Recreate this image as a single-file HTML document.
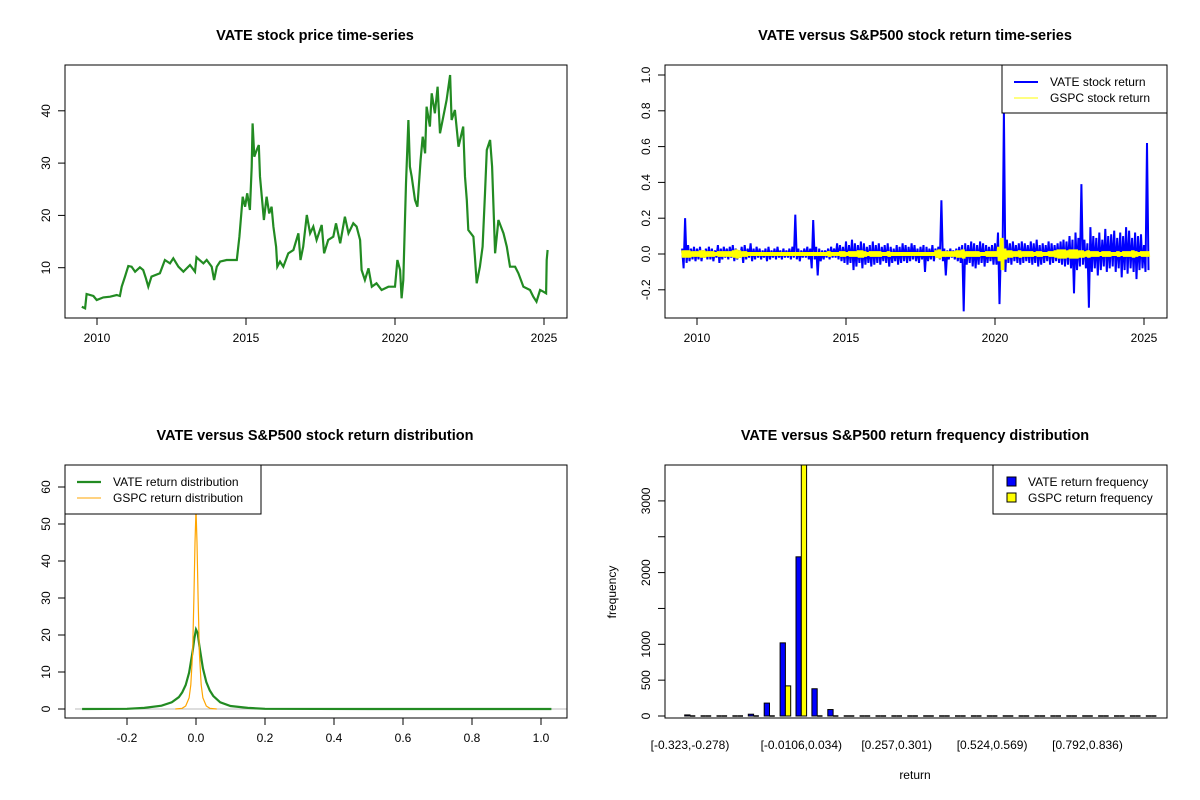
<!DOCTYPE html>
<html><head><meta charset="utf-8"><style>
body{margin:0;background:#fff}
svg{display:block;font-family:"Liberation Sans",Arial,sans-serif}
</style></head><body>
<svg id="c" width="1200" height="800" viewBox="0 0 1200 800"></svg>
<script>
// ---- price chart data ----
const priceYears=[2009.49,2009.60,2009.65,2009.88,2009.99,2010.21,2010.44,2010.66,2010.77,2010.83,2010.94,2011.05,2011.16,2011.28,2011.44,2011.55,2011.64,2011.72,2011.83,2012.11,2012.28,2012.45,2012.56,2012.73,2012.90,2013.12,2013.29,2013.34,2013.57,2013.68,2013.85,2013.93,2014.02,2014.13,2014.35,2014.69,2014.78,2014.89,2014.97,2015.04,2015.13,2015.19,2015.22,2015.28,2015.36,2015.43,2015.47,2015.53,2015.60,2015.69,2015.78,2015.86,2015.92,2016.01,2016.05,2016.14,2016.25,2016.42,2016.59,2016.76,2016.83,2016.92,2017.04,2017.15,2017.26,2017.37,2017.54,2017.62,2017.76,2017.93,2018.02,2018.16,2018.32,2018.44,2018.60,2018.71,2018.83,2018.88,2018.99,2019.11,2019.22,2019.38,2019.55,2019.78,2020.00,2020.08,2020.17,2020.22,2020.28,2020.37,2020.45,2020.50,2020.56,2020.67,2020.75,2020.86,2020.93,2021.01,2021.06,2021.17,2021.23,2021.34,2021.43,2021.51,2021.62,2021.73,2021.85,2021.90,2022.01,2022.13,2022.29,2022.35,2022.41,2022.46,2022.63,2022.68,2022.74,2022.85,2022.94,2023.02,2023.08,2023.19,2023.26,2023.36,2023.47,2023.64,2023.75,2023.86,2024.03,2024.14,2024.31,2024.53,2024.64,2024.75,2024.87,2024.98,2025.07,2025.09,2025.12];
const prices=[2.55,2.23,4.97,4.59,3.82,4.33,4.46,4.78,4.59,6.37,8.29,10.33,10.2,9.24,10.07,9.56,7.97,6.37,8.29,8.92,11.47,10.83,11.79,10.2,9.24,10.52,9.24,11.98,10.83,11.47,10.2,7.65,10.2,11.16,11.47,11.47,15.93,23.58,21.67,24.22,21.03,29.32,37.6,31.23,32.5,33.46,27.4,23.58,19.12,23.58,20.39,21.67,17.85,14.02,10.2,11.16,10.2,12.75,13.38,16.57,11.47,14.02,20.08,16.57,17.85,15.3,18.16,12.75,15.3,15.93,18.48,14.66,19.76,16.57,18.48,17.85,15.3,9.56,7.65,9.88,6.37,7.01,5.74,6.37,6.37,11.47,9.56,4.14,7.65,26.13,38.24,29.32,27.4,22.94,21.67,30.59,35.05,31.87,40.79,36.97,43.34,39.52,44.61,35.69,38.88,42.06,46.85,38.24,40.15,33.14,36.97,27.4,22.94,17.21,15.93,12.11,7.01,10.2,14.02,24.22,32.5,34.42,29.32,12.75,19.12,16.57,14.02,10.2,10.2,8.92,6.37,5.74,4.46,3.5,5.74,5.42,5.1,11.47,13.38];
const priceYTicks=[10,20,30,40];
const yearTicks=[2010,2015,2020,2025];
// ---- return chart data (0.1-year periods starting 2009.5) ----
const retStart=2009.5;
const vateUp=[.03,.2,.05,.03,.04,
.03,.04,.02,.03,.04,.03,.02,.05,.03,.04,
.03,.04,.05,.03,.02,.04,.05,.03,.06,.03,
.04,.03,.02,.03,.04,.02,.03,.04,.02,.03,
.02,.03,.04,.22,.03,.02,.03,.04,.03,.19,
.04,.03,.02,.02,.03,.04,.03,.06,.05,.04,
.07,.05,.08,.06,.05,.07,.06,.04,.05,.07,
.05,.06,.04,.05,.06,.04,.03,.05,.04,.06,
.05,.04,.06,.05,.03,.04,.05,.04,.03,.05,
.03,.04,.3,.03,.02,.03,.02,.03,.04,.05,
.06,.05,.07,.06,.05,.07,.06,.05,.04,.05,
.06,.12,.05,.8,.08,.06,.07,.05,.06,.07,
.06,.05,.07,.06,.08,.05,.06,.05,.07,.06,
.05,.06,.07,.08,.07,.1,.08,.12,.09,.39,
.08,.06,.15,.1,.09,.12,.08,.14,.1,.11,
.13,.09,.12,.1,.15,.13,.09,.12,.1,.11,
.05,.62];
const vateDown=[-.08,-.05,-.04,-.03,-.04,
-.03,-.04,-.02,-.03,-.03,-.04,-.02,-.05,-.03,-.02,
-.03,-.02,-.04,-.03,-.02,-.05,-.03,-.02,-.04,-.03,
-.02,-.03,-.02,-.04,-.03,-.02,-.03,-.02,-.03,-.02,
-.02,-.03,-.02,-.03,-.04,-.02,-.02,-.03,-.08,-.03,
-.12,-.04,-.03,-.02,-.03,-.02,-.02,-.03,-.04,-.05,
-.06,-.05,-.09,-.07,-.05,-.08,-.06,-.05,-.07,-.06,
-.05,-.06,-.04,-.05,-.07,-.05,-.04,-.06,-.05,-.04,
-.05,-.04,-.03,-.04,-.05,-.03,-.1,-.04,-.03,-.04,
-.02,-.03,-.04,-.12,-.03,-.02,-.03,-.04,-.05,-.32,
-.06,-.05,-.07,-.08,-.06,-.05,-.07,-.05,-.04,-.06,
-.06,-.28,-.07,-.1,-.05,-.06,-.04,-.05,-.06,-.05,
-.04,-.05,-.06,-.05,-.07,-.06,-.05,-.04,-.06,-.05,
-.04,-.05,-.06,-.07,-.06,-.08,-.22,-.09,-.07,-.06,
-.08,-.3,-.1,-.08,-.12,-.09,-.07,-.1,-.08,-.07,
-.1,-.08,-.13,-.09,-.11,-.08,-.1,-.14,-.09,-.08,
-.1,-.09];
const gspcAmp=[.02,.02,.02,.015,.015,
.015,.02,.02,.015,.015,.015,.01,.015,.015,.015,
.015,.015,.02,.025,.02,.015,.015,.01,.01,.01,
.01,.01,.01,.01,.01,.01,.01,.01,.01,.01,
.01,.01,.01,.01,.01,.01,.01,.01,.01,.01,
.01,.01,.01,.01,.015,.01,.01,.01,.015,.015,
.01,.015,.015,.015,.02,.02,.015,.01,.015,.015,
.015,.015,.01,.01,.015,.01,.01,.01,.01,.01,
.01,.01,.01,.01,.01,.01,.01,.01,.01,.01,
.02,.025,.015,.015,.015,.015,.015,.02,.02,.025,
.015,.015,.015,.015,.015,.01,.01,.015,.015,.015,
.015,.04,.09,.03,.02,.02,.015,.015,.02,.015,
.015,.015,.015,.01,.015,.015,.01,.01,.015,.015,
.02,.025,.025,.025,.02,.025,.025,.025,.02,.02,
.015,.02,.015,.015,.015,.01,.015,.015,.015,.01,
.01,.015,.01,.015,.015,.015,.02,.015,.01,.015,
.015,.015];
const retYTicks=[-0.2,0.0,0.2,0.4,0.6,0.8,1.0];
// ---- density data ----
const densX=[-0.33,-0.2,-0.15,-0.1,-0.07,-0.05,-0.04,-0.03,-0.02,-0.01,-0.005,0,0.005,0.01,0.02,0.03,0.04,0.05,0.07,0.1,0.15,0.2,0.5,1.03];
const vateDens=[0,0.05,0.3,0.9,1.8,3.2,4.5,6.5,9.8,15.5,19,21.5,20.5,17,11,7.3,5,3.5,1.8,0.8,0.3,0.05,0,0];
const gspcDensX=[-0.06,-0.04,-0.03,-0.02,-0.015,-0.01,-0.006,-0.003,0,0.003,0.006,0.01,0.015,0.02,0.03,0.04,0.06];
const gspcDens=[0,0.2,0.8,3,6.5,15,30,45,54,45,30,15,6.5,3,0.8,0.2,0];
const densXTicks=[-0.2,0,0.2,0.4,0.6,0.8,1.0];
const densXLabels=["-0.2","0.0","0.2","0.4","0.6","0.8","1.0"];
const densYTicks=[0,10,20,30,40,50,60];
// ---- histogram data ----
const vateFreq=[15,0,0,10,25,180,1020,2220,380,90,12,10,8,0,0,0,0,0,0,0,0,0,0,0,0,0,0,0,0,0];
const gspcFreq=[0,0,0,0,0,0,420,3650,10,0,0,0,0,0,0,0,0,0,0,0,0,0,0,0,0,0,0,0,0,0];
const histLabelBins=[0,7,13,19,25];
const histLabels=["[-0.323,-0.278)","[-0.0106,0.034)","[0.257,0.301)","[0.524,0.569)","[0.792,0.836)"];
const histYTicks=[0,500,1000,1500,2000,2500,3000];
const histYLabels=["0","500","1000","","2000","","3000"];

const NS="http://www.w3.org/2000/svg";
const svg=document.getElementById('c');
function mk(tag,attrs,parent,text){const e=document.createElementNS(NS,tag);for(const k in attrs)e.setAttribute(k,attrs[k]);if(text!==undefined)e.textContent=text;(parent||svg).appendChild(e);return e;}
function group(name){const g=mk('g',{});return g;}
function txt(g,x,y,s,opt){opt=opt||{};const a={x:x,y:y,'font-size':opt.size||12,'text-anchor':opt.anchor||'middle',fill:'#000'};if(opt.bold)a['font-weight']='bold';if(opt.rot)a.transform='rotate(-90 '+x+' '+y+')';return mk('text',a,g,s);}
function box(g,x1,y1,x2,y2){mk('rect',{x:x1,y:y1,width:x2-x1,height:y2-y1,fill:'none',stroke:'#000','stroke-width':1},g);}
function xAxis(g,vals,labels,fx,yb){vals.forEach((v,i)=>{const x=fx(v);mk('line',{x1:x,y1:yb,x2:x,y2:yb+7,stroke:'#000'},g);if(labels[i]!=="")txt(g,x,yb+24,labels[i]);});}
function yAxis(g,vals,labels,fy,xl){vals.forEach((v,i)=>{const y=fy(v);mk('line',{x1:xl,y1:y,x2:xl-7,y2:y,stroke:'#000'},g);if(labels[i]!=="")txt(g,xl-15,y,labels[i],{rot:true});});}
function pathFrom(xs,ys,fx,fy){return xs.map((v,i)=>(i?'L':'M')+fx(v).toFixed(1)+' '+fy(ys[i]).toFixed(1)).join(' ');}

// ===== Panel 1: price =====
{const g=group('price-panel');
const fx=y=>97+(y-2010)*29.8, fy=p=>320-p*5.23;
txt(g,315,40,'VATE stock price time-series',{size:14.5,bold:true});
const p=mk('path',{d:pathFrom(priceYears,prices,fx,fy),fill:'none',stroke:'#228B22','stroke-width':2.2,'stroke-linejoin':'miter'},g);

box(g,65,65,567,318);
xAxis(g,yearTicks,yearTicks.map(String),fx,318);
yAxis(g,priceYTicks,priceYTicks.map(String),fy,65);}

// ===== Panel 2: returns =====
{const g=group('return-panel');
const fx=y=>697+(y-2010)*29.8, fy=v=>254-v*179;
txt(g,915,40,'VATE versus S&P500 stock return time-series',{size:14.5,bold:true});
let d='';vateUp.forEach((u,i)=>{const t=retStart+i*0.1;d+=(i?'L':'M')+fx(t).toFixed(1)+' '+fy(u).toFixed(1)+'L'+fx(t+0.05).toFixed(1)+' '+fy(vateDown[i]).toFixed(1);});
const vp=mk('path',{d:d,fill:'none',stroke:'#0000FF','stroke-width':2},g);

let d2='';gspcAmp.forEach((a,i)=>{for(let k=0;k<4;k++){const t=retStart+i*0.1+k*0.025;d2+=((i||k)?'L':'M')+fx(t).toFixed(1)+' '+fy(k%2?-a:a).toFixed(1);}});
const gp=mk('path',{d:d2,fill:'none',stroke:'#FFFF00','stroke-width':2},g);

box(g,665,65,1167,318);
xAxis(g,yearTicks,yearTicks.map(String),fx,318);
yAxis(g,retYTicks,retYTicks.map(v=>v.toFixed(1)),fy,665);
const lg=group('return-legend');mk('rect',{x:1002,y:65,width:165,height:48,fill:'#fff',stroke:'#000'},lg);
mk('line',{x1:1014,y1:82,x2:1038,y2:82,stroke:'#0000FF','stroke-width':2},lg);
mk('line',{x1:1014,y1:98,x2:1038,y2:98,stroke:'#FFFF00','stroke-width':1},lg);
txt(lg,1050,86,'VATE stock return',{anchor:'start'});txt(lg,1050,102,'GSPC stock return',{anchor:'start'});}

// ===== Panel 3: density =====
{const g=group('density-panel');
const fx=v=>196+v*345, fy=v=>709-v*3.7;
txt(g,315,440,'VATE versus S&P500 stock return distribution',{size:14.5,bold:true});
mk('line',{x1:75,y1:fy(0),x2:567,y2:fy(0),stroke:'#bbbbbb','stroke-width':1},g);
const vp=mk('path',{d:pathFrom(densX,vateDens,fx,fy),fill:'none',stroke:'#228B22','stroke-width':2.2},g);

const gp=mk('path',{d:pathFrom(gspcDensX,gspcDens,fx,fy),fill:'none',stroke:'#FFA500','stroke-width':1.2},g);

box(g,65,465,567,718);
xAxis(g,densXTicks,densXLabels,fx,718);
yAxis(g,densYTicks,densYTicks.map(String),fy,65);
const lg=group('density-legend');mk('rect',{x:65,y:465,width:196,height:49,fill:'#fff',stroke:'#000'},lg);
mk('line',{x1:77,y1:482,x2:101,y2:482,stroke:'#228B22','stroke-width':2.2},lg);
mk('line',{x1:77,y1:498,x2:101,y2:498,stroke:'#FFA500','stroke-width':1},lg);
txt(lg,113,486,'VATE return distribution',{anchor:'start'});txt(lg,113,502,'GSPC return distribution',{anchor:'start'});}

// ===== Panel 4: histogram =====
{const g=group('histogram-panel');
const unit=5.3, ox=679.4;
const fx=u=>ox+u*unit, fy=v=>716-v*0.0717;
txt(g,915,440,'VATE versus S&P500 return frequency distribution',{size:14.5,bold:true});
const clip=mk('clipPath',{id:'hc'},svg);mk('rect',{x:665,y:465,width:502,height:253},clip);
const bars=mk('g',{'clip-path':'url(#hc)'},g);
function bar(x,v,col,name){const y=fy(v);let r;
if(fy(0)-y<1){r=mk('line',{x1:x,y1:fy(0),x2:x+unit,y2:fy(0),stroke:'#000','stroke-width':1.5},bars);}
else{r=mk('rect',{x:x,y:y,width:unit,height:fy(0)-y,fill:col,stroke:'#000','stroke-width':1},bars);}

}
vateFreq.forEach((v,i)=>bar(fx(3*i+1),v,'#0000FF','vate-freq-bar'));
gspcFreq.forEach((v,i)=>bar(fx(3*i+2),v,'#FFFF00','gspc-freq-bar'));
box(g,665,465,1167,718);
histLabelBins.forEach((b,i)=>txt(g,fx(3*b+2),749,histLabels[i]));
yAxis(g,histYTicks,histYLabels,fy,665);
txt(g,915,779,'return');
txt(g,616,592,'frequency',{rot:true});
const lg=group('histogram-legend');mk('rect',{x:993,y:465,width:174,height:49,fill:'#fff',stroke:'#000'},lg);
mk('rect',{x:1007,y:477,width:9,height:9,fill:'#0000FF',stroke:'#000'},lg);
mk('rect',{x:1007,y:493,width:9,height:9,fill:'#FFFF00',stroke:'#000'},lg);
txt(lg,1028,486,'VATE return frequency',{anchor:'start'});txt(lg,1028,502,'GSPC return frequency',{anchor:'start'});}
</script>
</body></html>
